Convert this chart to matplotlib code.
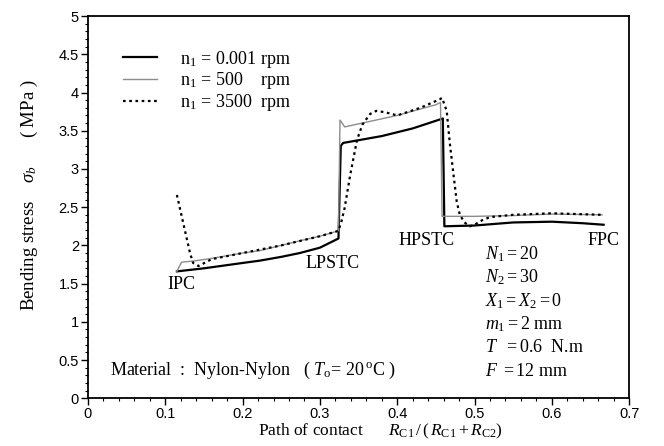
import matplotlib
matplotlib.use("Agg")
import matplotlib.pyplot as plt
from matplotlib.ticker import MultipleLocator

# bending stress along the path of contact, three input speeds
x_slow = [0.115, 0.15, 0.20, 0.222, 0.25, 0.274, 0.30, 0.324, 0.327, 0.33,
          0.38, 0.42, 0.459, 0.461, 0.50, 0.55, 0.60, 0.64, 0.667]
y_slow = [1.66, 1.70, 1.77, 1.80, 1.85, 1.90, 1.97, 2.09, 3.30, 3.34,
          3.43, 3.53, 3.66, 2.25, 2.26, 2.30, 2.31, 2.29, 2.27]

x_mid = [0.115, 0.121, 0.14, 0.16, 0.20, 0.222, 0.274, 0.30, 0.324, 0.326,
         0.332, 0.40, 0.45, 0.456, 0.458, 0.50, 0.55, 0.60, 0.665]
y_mid = [1.66, 1.78, 1.80, 1.83, 1.90, 1.93, 2.06, 2.12, 2.19, 3.64,
         3.55, 3.70, 3.84, 3.87, 2.38, 2.38, 2.39, 2.41, 2.40]

x_fast = [0.115, 0.132, 0.136, 0.143, 0.16, 0.20, 0.25, 0.30, 0.324, 0.328,
          0.332, 0.339, 0.348, 0.355, 0.365, 0.373, 0.385, 0.40, 0.43,
          0.455, 0.458, 0.464, 0.468, 0.473, 0.477, 0.481, 0.487, 0.494,
          0.50, 0.51, 0.52, 0.55, 0.60, 0.665]
y_fast = [2.66, 1.90, 1.77, 1.73, 1.82, 1.90, 2.00, 2.12, 2.19, 2.32,
          2.49, 2.91, 3.38, 3.58, 3.72, 3.76, 3.74, 3.70, 3.80,
          3.91, 3.93, 3.76, 3.34, 2.91, 2.57, 2.40, 2.30, 2.25,
          2.27, 2.33, 2.37, 2.40, 2.42, 2.40]

x_ticks = [0, 0.1, 0.2, 0.3, 0.4, 0.5, 0.6, 0.7]
x_tick_labels = ["0", "0.1", "0.2", "0.3", "0.4", "0.5", "0.6", "0.7"]
y_ticks = [0, 0.5, 1, 1.5, 2, 2.5, 3, 3.5, 4, 4.5, 5]
y_tick_labels = ["0", "0.5", "1", "1.5", "2", "2.5", "3", "3.5", "4", "4.5", "5"]

params = ["$N_1 = 20$", "$N_2 = 30$", "$X_1 = X_2 = 0$",
          "$m_1 = 2$ mm", "$T\\ \\ = 0.6$  N.m", "$F\\ = 12$ mm"]

plt.rcParams["font.family"] = "Liberation Serif"
plt.rcParams["mathtext.fontset"] = "custom"
plt.rcParams["mathtext.rm"] = "Liberation Serif"
plt.rcParams["mathtext.it"] = "Liberation Serif:italic"

fig = plt.figure(figsize=(6.64, 4.46), dpi=100)
ax = fig.add_axes([0.1325, 0.107, 0.815, 0.857])

ax.plot(x_slow, y_slow, color="black", lw=1.6, label="n$_1$ = 0.001 rpm")
ax.plot(x_mid, y_mid, color="#8c8c8c", lw=1.0, label="n$_1$ = 500    rpm")
ax.plot(x_fast, y_fast, color="black", lw=1.6, ls=(0, (1.2, 1.6)),
        label="n$_1$ = 3500  rpm")

ax.set_xlim(0, 0.7)
ax.set_ylim(0, 5)
ax.set_xticks(x_ticks, x_tick_labels, fontfamily="Liberation Sans", fontsize=10.5)
ax.set_yticks(y_ticks, y_tick_labels, fontfamily="Liberation Sans", fontsize=10.5)
ax.xaxis.set_minor_locator(MultipleLocator(0.02))
ax.yaxis.set_minor_locator(MultipleLocator(0.1))
ax.tick_params(which="major", direction="out", length=5, width=1, pad=1.5)
ax.tick_params(which="minor", direction="out", length=2.5, width=0.8)
for s in ax.spines.values():
    s.set_linewidth(1.3)

ax.set_xlabel("Path of contact      $R_{\\rm C1}\\,/\\,(\\,R_{\\rm C1}+R_{\\rm C2})$",
              fontsize=12.5)
ax.xaxis.set_label_coords(0.54, -0.062)
ax.set_ylabel("Bending stress    $\\sigma_b$      ( MPa )", fontsize=13.5)
ax.yaxis.set_label_coords(-0.089, 0.53)

ax.legend(loc="upper left", bbox_to_anchor=(0.064, 0.915), frameon=False,
          fontsize=13, handlelength=1.9, labelspacing=0.05, handletextpad=1.3,
          borderpad=0, borderaxespad=0)

ax.text(0.121, 1.49, "IPC", fontsize=13, ha="center", va="center")
ax.text(0.317, 1.76, "LPSTC", fontsize=13, ha="center", va="center")
ax.text(0.438, 2.07, "HPSTC", fontsize=13, ha="center", va="center")
ax.text(0.667, 2.06, "FPC", fontsize=13, ha="center", va="center")

for i, p in enumerate(params):
    ax.text(0.514, 1.89 - i * 0.308, p, fontsize=13, va="center")

ax.text(0.028, 0.37, "Material  :  Nylon-Nylon   ( $T_{\\rm o}$= 20$\\,^{\\rm o}$C )",
        fontsize=13, va="center")

fig.savefig("out.png", dpi=100)
